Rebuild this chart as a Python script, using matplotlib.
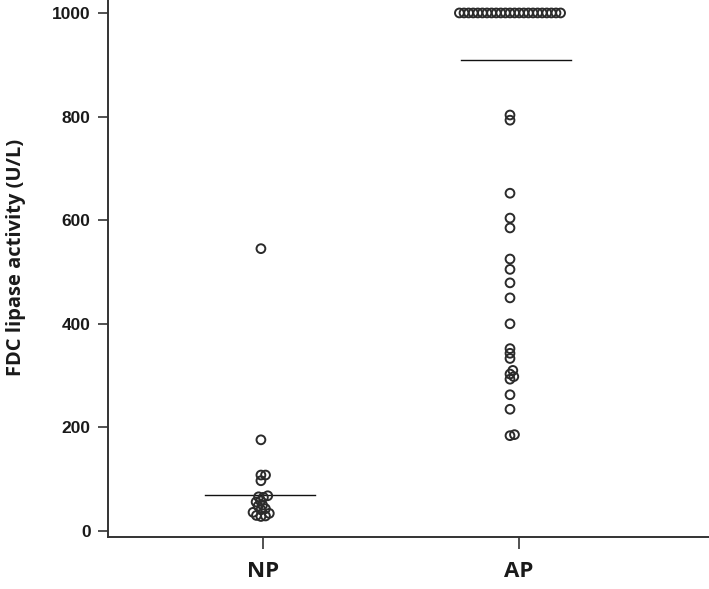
import numpy as np
import matplotlib
matplotlib.use("Agg")
from matplotlib import pyplot as plt

groups = ["NP", "AP"]

np_values = [545, 176, 108, 108, 97, 68, 66, 65, 58, 56, 50, 48, 43, 41,
             36, 34, 30, 29, 28]
ap_values = [1000] * 23 + [803, 793, 652, 604, 585, 525, 505, 479, 450, 400,
                           352, 343, 333, 310, 303, 298, 293, 263, 235, 186, 184]
center_line = [69, 909]

yticks = [0, 200, 400, 600, 800, 1000]


def swarm(y_px, s):
    # simple beeswarm: push points sideways until they are s px apart
    order = np.argsort(y_px, kind="stable")
    xs = np.zeros(len(y_px))
    placed = []
    for i in order:
        y = y_px[i]
        near = [(px, py) for px, py in placed if abs(py - y) < s]
        cands = [0.0]
        for px, py in near:
            dx = np.sqrt(s ** 2 - (py - y) ** 2)
            cands += [px + dx, px - dx]
        cands.sort(key=abs)
        for c in cands:
            if all((c - px) ** 2 + (y - py) ** 2 >= s ** 2 - 1e-6 for px, py in near):
                xs[i] = c
                placed.append((c, y))
                break
    return xs


fig = plt.figure(figsize=(7.09, 5.89), dpi=100)
ax = fig.add_axes([108 / 709, 52 / 589, 1 - 108 / 709, 1 - 52 / 589])
ax.set_xlim(0.395, 2.742)
ax.set_ylim(-11.6, 1025)

fig.canvas.draw()
t0 = ax.transData.transform((0, 0))
t1 = ax.transData.transform((1, 1))
ppu_x = t1[0] - t0[0]
ppu_y = t1[1] - t0[1]

gap = 4.6  # px between neighbouring circle centres
dot_shift = [-2, -9]  # px, dots sit a little left of the tick
line_shift = [-3, -3]
for i, vals in enumerate([np_values, ap_values]):
    v = np.array(vals, dtype=float)
    off = (swarm(v * ppu_y, gap) + dot_shift[i]) / ppu_x
    ax.scatter(i + 1 + off, v, s=40, facecolors="none", edgecolors="#2b2b2b",
               linewidths=1.4, zorder=3)
    xc = i + 1 + line_shift[i] / ppu_x
    ax.plot([xc - 0.214, xc + 0.214], [center_line[i]] * 2,
            color="#111111", lw=1.0, zorder=2)

for side in ["top", "right"]:
    ax.spines[side].set_visible(False)
for side in ["left", "bottom"]:
    ax.spines[side].set_color("#333333")
    ax.spines[side].set_linewidth(1.4)

ax.set_yticks(yticks)
ax.set_yticklabels([str(t) for t in yticks], fontfamily="Liberation Sans",
                   fontweight="bold", fontsize=12.5, color="#1a1a1a")
ax.set_xticks([1, 2])
ax.set_xticklabels(groups, fontfamily="Open Sans", fontweight="bold",
                   fontsize=16, color="#1a1a1a")
ax.tick_params(axis="y", length=7.5, width=1.2, color="#333333", pad=5)
ax.tick_params(axis="x", length=8.5, width=1.2, color="#333333", pad=9)

ax.set_ylabel("FDC lipase activity (U/L)", fontfamily="Open Sans",
              fontweight="bold", fontsize=14.5, color="#1a1a1a")
ax.yaxis.label.set_verticalalignment("center")
ax.yaxis.set_label_coords(-0.153, 0.52)

fig.savefig("out.png", dpi=100)
